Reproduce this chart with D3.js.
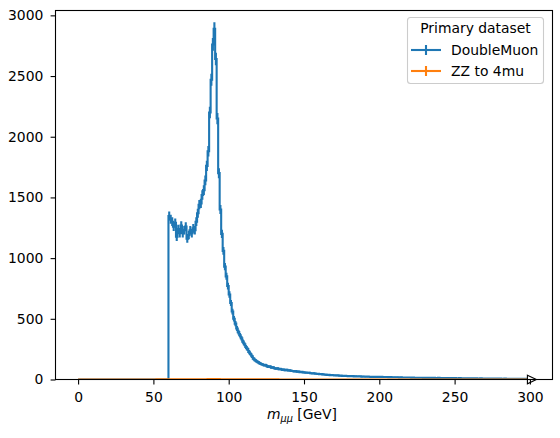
<!DOCTYPE html>
<html>
<head>
<meta charset="utf-8">
<script src="https://cdn.jsdelivr.net/npm/d3@7/dist/d3.min.js"></script>
<style>
  body { margin: 0; background: #fff; }
  svg { display: block; font-family: "DejaVu Sans", sans-serif; }
</style>
</head>
<body>
<div id="chart"></div>
<script>
// histogram binning (GeV)
var massMin = 0, massMax = 300, binWidth = 1;

var xTicks = [0, 50, 100, 150, 200, 250, 300];
var yTicks = [0, 500, 1000, 1500, 2000, 2500, 3000];

var seriesNames = ["DoubleMuon", "ZZ to 4mu"];
var seriesColors = ["#1f77b4", "#ff7f0e"];

// DoubleMuon counts per 1 GeV bin, 0..300
var muonCounts = [
  0,0,0,0,0,0,0,0,0,0,0,0,0,0,0,0,0,0,0,0,
  0,0,0,0,0,0,0,0,0,0,0,0,0,0,0,0,0,0,0,0,
  0,0,0,0,0,0,0,0,0,0,0,0,0,0,0,0,0,0,0,0,
  1347,1320,1300,1259,1290,1176,1240,1205,1268,1205,1230,1260,1160,1190,1230,1205,1245,1230,1300,1370,
  1440,1450,1520,1560,1640,1760,1880,2200,2470,2760,2890,2640,2150,1700,1400,1200,1060,930,850,770,
  700,630,560,500,460,420,390,365,340,312,290,268,250,228,210,192,172,160,150,143,
  135,128,124,117,119,110,104,107,98,100,93,90,92,85,87,80,82,77,79,74,
  76,71,70,67,69,64,66,61,63,59,58,57,55,56,52,50,52,48,47,46,
  44,45,42,41,40,38,39,36,37,35,34,33,34,31,32,30,31,30,29,28,
  29,27,28,26,27,26,25,26,24,25,24,23,24,23,22,23,22,22,21,22,
  21,22,21,20,21,20,19,20,19,19,18,19,18,17,18,17,17,16,17,16,
  16,15,16,15,15,14,15,14,14,13,14,13,13,14,13,12,13,12,12,13,
  12,11,12,11,12,11,11,10,11,10,11,10,10,11,10,9,10,9,9,10,
  9,8,9,8,9,8,8,9,8,7,8,7,8,7,7,8,7,6,7,6,
  7,6,6,7,6,5,6,5,6,5,5,6,5,5,6,5,4,5,5,4
];

// ZZ to 4mu (scaled MC) counts per 1 GeV bin, 0..300
var zzCounts = [
  0,0,0,0,0,0,0,0,0,0,0.02,0.03,0.03,0.05,0.04,0.06,0.07,0.08,0.09,0.1,
  0.11,0.12,0.14,0.15,0.16,0.18,0.19,0.21,0.22,0.24,0.25,0.27,0.28,0.3,0.31,0.33,0.35,0.36,0.38,0.4,
  0.41,0.43,0.45,0.47,0.49,0.5,0.52,0.54,0.56,0.58,0.6,0.62,0.64,0.66,0.68,0.7,0.72,0.74,0.77,0.79,
  0.81,0.83,0.86,0.88,0.9,0.93,0.95,0.98,1.0,1.03,1.06,1.09,1.12,1.15,1.18,1.21,1.25,1.29,1.33,1.37,
  1.4,1.5,1.7,1.9,2.1,2.4,2.8,3.2,3.6,3.9,4.1,3.8,3.3,2.8,2.3,1.9,1.6,1.4,1.2,1.1,
  1.05,1.0,0.98,0.96,0.95,0.93,0.92,0.91,0.9,0.9,0.89,0.89,0.88,0.88,0.87,0.87,0.86,0.86,0.86,0.85,
  0.85,0.82,0.8,0.78,0.77,0.74,0.72,0.71,0.69,0.67,0.66,0.64,0.63,0.61,0.6,0.58,0.57,0.56,0.55,0.53,
  0.52,0.51,0.5,0.49,0.48,0.47,0.46,0.45,0.44,0.43,0.42,0.42,0.41,0.4,0.39,0.39,0.38,0.37,0.37,0.36,
  0.35,0.35,0.34,0.34,0.33,0.33,0.32,0.32,0.31,0.31,0.3,0.3,0.29,0.29,0.29,0.28,0.28,0.28,0.27,0.27,
  0.3,0.32,0.34,0.35,0.36,0.36,0.35,0.34,0.33,0.32,0.31,0.3,0.29,0.28,0.27,0.27,0.26,0.26,0.25,0.25,
  0.24,0.24,0.23,0.23,0.22,0.22,0.21,0.21,0.2,0.2,0.2,0.19,0.19,0.18,0.18,0.18,0.17,0.17,0.17,0.16,
  0.16,0.16,0.15,0.15,0.15,0.14,0.14,0.14,0.13,0.13,0.13,0.13,0.12,0.12,0.12,0.12,0.11,0.11,0.11,0.11,
  0.1,0.1,0.1,0.1,0.1,0.09,0.09,0.09,0.09,0.09,0.08,0.08,0.08,0.08,0.08,0.08,0.07,0.07,0.07,0.07,
  0.07,0.07,0.06,0.06,0.06,0.06,0.06,0.06,0.06,0.05,0.05,0.05,0.05,0.05,0.05,0.05,0.05,0.04,0.04,0.04,
  0.04,0.04,0.04,0.04,0.04,0.04,0.04,0.03,0.03,0.03,0.03,0.03,0.03,0.03,0.03,0.03,0.03,0.03,0.02,0.02
];

var seriesCounts = [muonCounts, zzCounts];

// set the dimensions of the page and the axes box
var width = 560, height = 438;
var box = { left: 55.5, right: 552.5, top: 10.5, bottom: 379.5 };
var fontSize = "13.9px", lineW = 2.1;

var x = d3.scaleLinear().domain([-15, 315]).range([box.left, box.right]);
var y = d3.scaleLinear().domain([0, 3040]).range([box.bottom, box.top]);

var svg = d3.select("#chart").append("svg")
  .attr("width", width)
  .attr("height", height);

svg.append("defs").append("clipPath").attr("id", "clip")
  .append("rect")
  .attr("x", box.left).attr("y", box.top)
  .attr("width", box.right - box.left).attr("height", box.bottom - box.top);

var plot = svg.append("g").attr("clip-path", "url(#clip)");

// one step line plus sqrt(N) error bars per series
seriesCounts.forEach(function (counts, s) {
  var pts = [];
  counts.forEach(function (c, i) {
    var lo = massMin + i * binWidth;
    pts.push([lo, c], [lo + binWidth, c]);
  });

  plot.append("path")
    .datum(pts)
    .attr("fill", "none")
    .attr("stroke", seriesColors[s])
    .attr("stroke-width", lineW)
    .attr("d", d3.line().x(function (d) { return x(d[0]); }).y(function (d) { return y(d[1]); }));

  plot.append("g").selectAll("line")
    .data(counts)
    .enter().append("line")
    .attr("x1", function (d, i) { return x(massMin + (i + 0.5) * binWidth); })
    .attr("x2", function (d, i) { return x(massMin + (i + 0.5) * binWidth); })
    .attr("y1", function (d) { return y(d - Math.sqrt(d)); })
    .attr("y2", function (d) { return y(d + Math.sqrt(d)); })
    .attr("stroke", seriesColors[s])
    .attr("stroke-width", lineW);
});

// overflow hint marker
var ox = x(massMax), oy = y(0);
svg.append("path")
  .attr("d", "M" + (ox - 2.5) + "," + (oy - 4.3) + "L" + (ox + 6.5) + "," + oy + "L" + (ox - 2.5) + "," + (oy + 4.3) + "Z")
  .attr("fill", "#fff")
  .attr("stroke", "#000")
  .attr("stroke-width", 1.1);

// axes
var xAxis = svg.append("g")
  .attr("transform", "translate(0," + box.bottom + ")")
  .call(d3.axisBottom(x).tickValues(xTicks).tickFormat(d3.format("d")).tickSize(4.9).tickPadding(7.4).tickSizeOuter(0));
var yAxis = svg.append("g")
  .attr("transform", "translate(" + box.left + ",0)")
  .call(d3.axisLeft(y).tickValues(yTicks).tickFormat(d3.format("d")).tickSize(4.9).tickPadding(7.3).tickSizeOuter(0));

[xAxis, yAxis].forEach(function (a) {
  a.select(".domain").remove();
  a.selectAll(".tick line").attr("stroke", "#000").attr("stroke-width", 1.1);
  a.selectAll(".tick text")
    .attr("fill", "#000")
    .attr("font-size", fontSize)
    .attr("font-family", "DejaVu Sans");
});

// frame
svg.append("rect")
  .attr("x", box.left).attr("y", box.top)
  .attr("width", box.right - box.left).attr("height", box.bottom - box.top)
  .attr("fill", "none")
  .attr("stroke", "#000")
  .attr("stroke-width", 1.1);

// x label
var xl = svg.append("text")
  .attr("x", 302)
  .attr("y", 419)
  .attr("text-anchor", "middle")
  .attr("font-size", fontSize)
  .attr("fill", "#000");
xl.append("tspan").attr("font-style", "italic").text("m");
xl.append("tspan").attr("font-style", "italic").attr("font-size", "9.7px").attr("dy", 2.5).text("μμ");
xl.append("tspan").attr("dy", -2.5).text(" [GeV]");

// legend
var legend = svg.append("g");
legend.append("rect")
  .attr("x", 407.5).attr("y", 17.5)
  .attr("width", 136).attr("height", 66)
  .attr("rx", 3)
  .attr("fill", "#fff").attr("fill-opacity", 0.8)
  .attr("stroke", "#cccccc").attr("stroke-width", 1.1);
legend.append("text")
  .attr("x", 475.5).attr("y", 33.3)
  .attr("text-anchor", "middle")
  .attr("font-size", fontSize)
  .text("Primary dataset");

var entry = legend.selectAll(".entry")
  .data(seriesNames)
  .enter().append("g")
  .attr("class", "entry")
  .attr("transform", function (d, i) { return "translate(0," + (50 + i * 21) + ")"; });
entry.append("line")
  .attr("x1", 411).attr("x2", 441).attr("y1", 0).attr("y2", 0)
  .attr("stroke", function (d, i) { return seriesColors[i]; })
  .attr("stroke-width", lineW);
entry.append("line")
  .attr("x1", 426).attr("x2", 426).attr("y1", -5).attr("y2", 5)
  .attr("stroke", function (d, i) { return seriesColors[i]; })
  .attr("stroke-width", lineW);
entry.append("text")
  .attr("x", 451).attr("y", 5)
  .attr("font-size", fontSize)
  .text(function (d) { return d; });
</script>
</body>
</html>
